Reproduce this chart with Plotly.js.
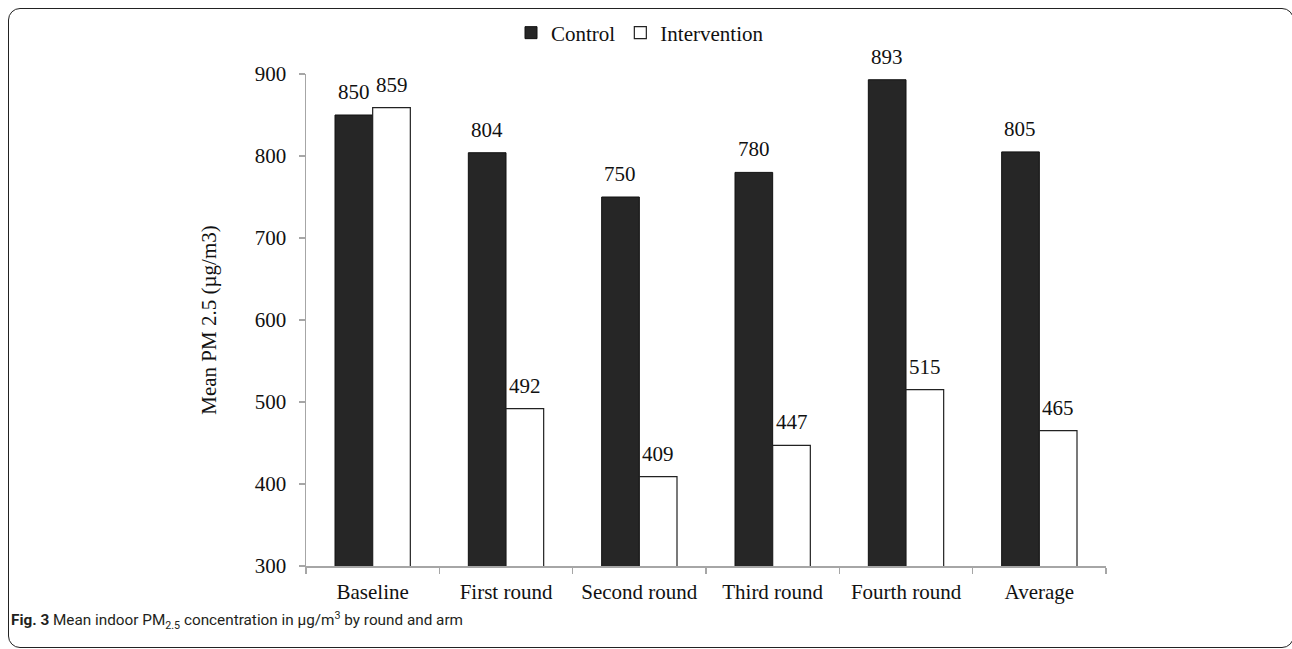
<!DOCTYPE html>
<html>
<head>
<meta charset="utf-8">
<script src="https://cdn.plot.ly/plotly-3.0.1.min.js"></script>
<style>
html,body{margin:0;padding:0;background:#fff;}
#wrap{position:relative;width:1292px;height:649px;overflow:hidden;}
#frame{position:absolute;left:8px;top:8px;width:1286px;height:640px;border:1.5px solid #222;border-radius:12px;box-sizing:border-box;pointer-events:none;}
#chart{position:absolute;left:0;top:0;width:1292px;height:649px;}
</style>
</head>
<body>
<div id="wrap">
<div id="chart"></div>
<div id="frame"></div>
</div>
<script>
const categories = ["Baseline", "First round", "Second round", "Third round", "Fourth round", "Average"];
const controlValues = [850, 804, 750, 780, 893, 805];
const interventionValues = [859, 492, 409, 447, 515, 465];
const yTicks = [300, 400, 500, 600, 700, 800, 900];

const W = 1292, H = 649;
const L = 306, R = 1106, T = 74, B = 566;
const serif = "Liberation Serif, Times New Roman, serif";
const bargap = 0.435;
const catPx = (R - L) / categories.length;
const barOff = catPx * (1 - bargap) / 4;

const traces = [
  {type: 'bar', name: 'Control', x: categories, y: controlValues,
   marker: {color: '#262626', line: {color: '#111', width: 1}}, hoverinfo: 'x+y'},
  {type: 'bar', name: 'Intervention', x: categories, y: interventionValues,
   marker: {color: '#ffffff', line: {color: '#222', width: 1.2}}, hoverinfo: 'x+y'}
];

const annotations = [];
categories.forEach((c, i) => {
  annotations.push({x: c, y: controlValues[i], xref: 'x', yref: 'y', text: String(controlValues[i]),
    showarrow: false, yanchor: 'bottom', xshift: -barOff, yshift: 9,
    font: {family: serif, size: 21, color: '#111'}});
  annotations.push({x: c, y: interventionValues[i], xref: 'x', yref: 'y', text: String(interventionValues[i]),
    showarrow: false, yanchor: 'bottom', xshift: barOff, yshift: 9,
    font: {family: serif, size: 21, color: '#111'}});
});
annotations.push({
  xref: 'paper', yref: 'paper', x: (9 - L) / (R - L), y: (B - 620) / (B - T),
  xanchor: 'left', yanchor: 'middle', showarrow: false, align: 'left',
  text: "<b>Fig. 3</b> Mean indoor PM<sub>2.5</sub> concentration in µg/m<sup>3</sup> by round and arm",
  font: {family: "Roboto, Open Sans, sans-serif", size: 15.3, color: '#231f20'}
});

const layout = {
  width: W, height: H,
  margin: {l: L, r: W - R, t: T, b: H - B, pad: 0},
  paper_bgcolor: '#fff', plot_bgcolor: '#fff',
  barmode: 'group', bargap: bargap, bargroupgap: 0,
  font: {family: serif, size: 21, color: '#111'},
  showlegend: true,
  legend: {orientation: 'h', xref: 'container', yref: 'container',
    x: 640 / W, y: 1 - 33 / H, xanchor: 'center', yanchor: 'middle',
    font: {family: serif, size: 21, color: '#111'}, itemwidth: 30, tracegroupgap: 0,
    bgcolor: 'rgba(0,0,0,0)'},
  xaxis: {type: 'category', showgrid: false, zeroline: false,
    showline: true, linecolor: '#a6a6a6', linewidth: 1.5,
    ticks: 'outside', tickson: 'boundaries', ticklen: 6, tickcolor: '#a6a6a6', tickwidth: 1.5,
    tickfont: {family: serif, size: 21, color: '#111'}, ticklabelstandoff: 6},
  yaxis: {range: [300, 900], tickvals: yTicks, showgrid: false, zeroline: false,
    showline: true, linecolor: '#a6a6a6', linewidth: 1.5,
    ticks: 'outside', ticklen: 6, tickcolor: '#a6a6a6', tickwidth: 1.5,
    tickfont: {family: serif, size: 21, color: '#111'}, ticklabelstandoff: 8,
    title: {text: 'Mean PM 2.5 (µg/m3)', font: {family: serif, size: 21, color: '#111'}, standoff: 32}},
  annotations: annotations
};

Plotly.newPlot('chart', traces, layout, {displayModeBar: false, staticPlot: true});
</script>
</body>
</html>
